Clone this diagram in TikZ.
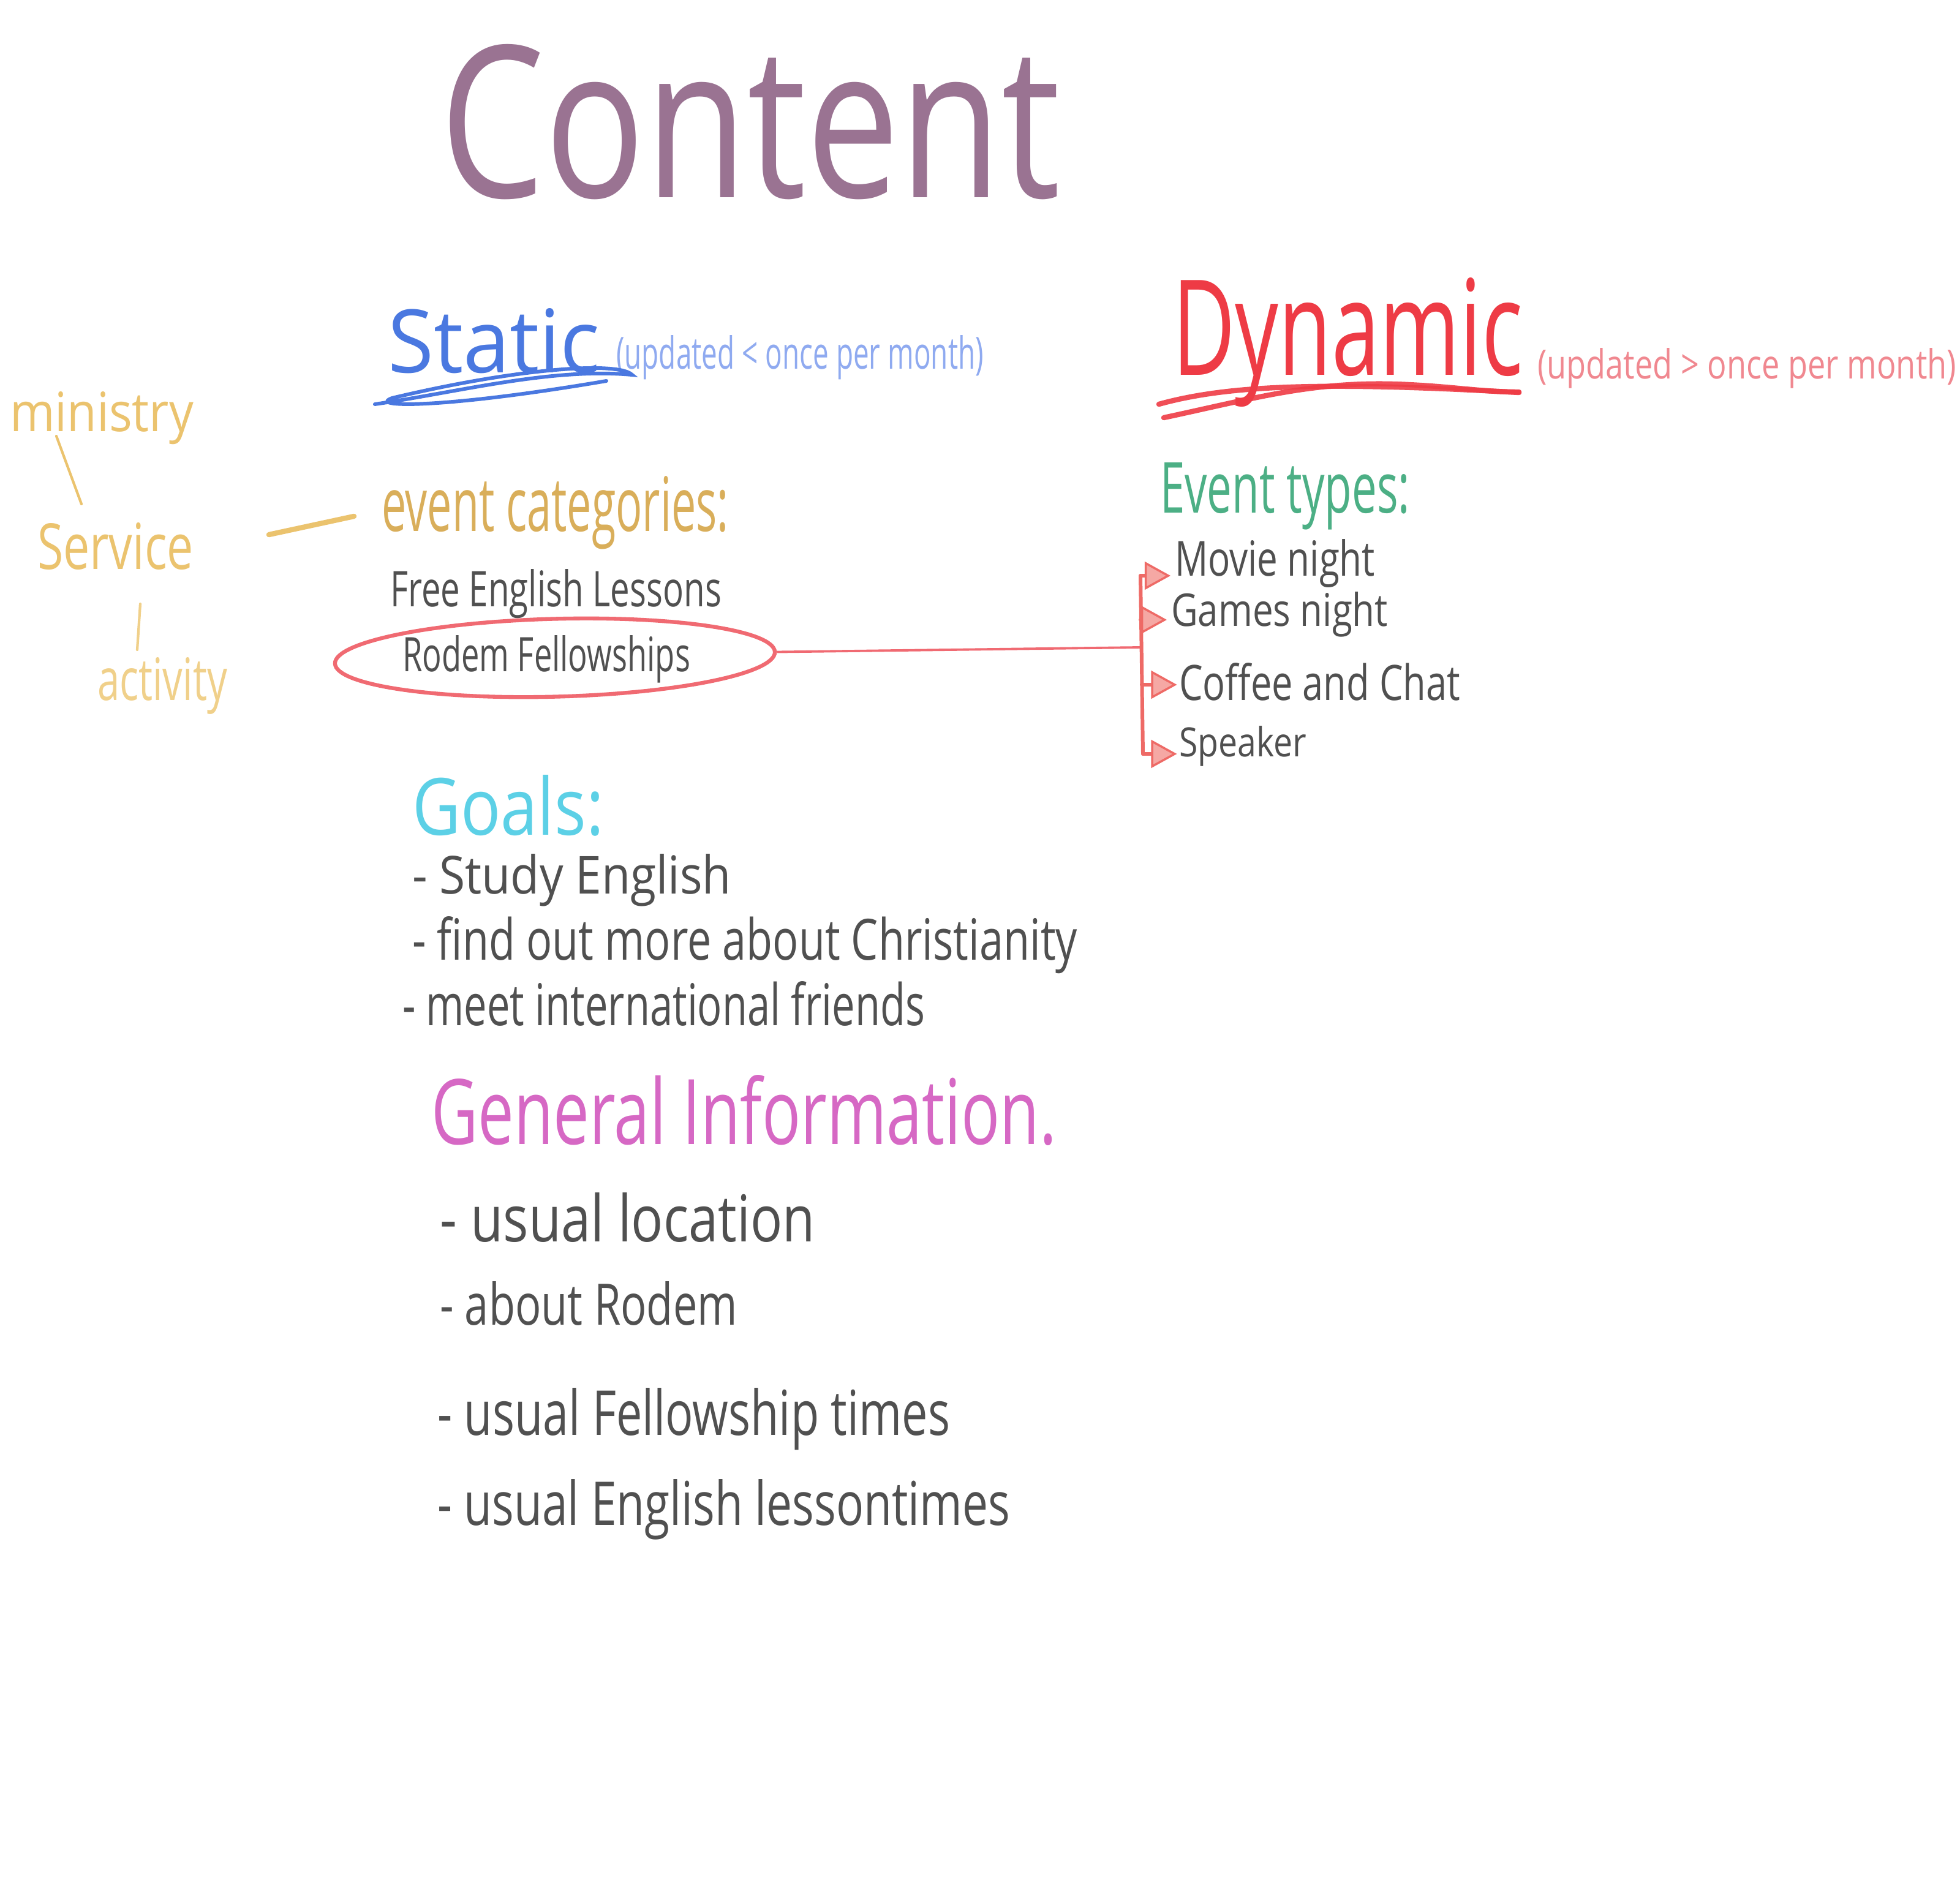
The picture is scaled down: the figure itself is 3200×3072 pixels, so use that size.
\documentclass[tikz,border=0pt]{standalone}
\usepackage{fontspec}
\setmainfont{Open Sans}
\usetikzlibrary{arrows.meta,shapes.geometric}
\newlength\upx \setlength\upx{0.01cm}
\newcommand\hw[3]{\resizebox{#1\upx}{#2\upx}{#3}}
\definecolor{cContent}{HTML}{9A7392}
\definecolor{cStatic}{HTML}{4A78E0}
\definecolor{cStaticL}{HTML}{8FAAF0}
\definecolor{cDyn}{HTML}{EE3B45}
\definecolor{cDynL}{HTML}{F08890}
\definecolor{cYel}{HTML}{EBC36E}
\definecolor{cYelL}{HTML}{F0D08A}
\definecolor{cEvCat}{HTML}{D9AE5A}
\definecolor{cInk}{HTML}{505050}
\definecolor{cCircle}{HTML}{F06A72}
\definecolor{cGreen}{HTML}{4CAF85}
\definecolor{cCyan}{HTML}{5CD0E6}
\definecolor{cMag}{HTML}{D668C4}
\definecolor{cArrow}{HTML}{EE6A66}
\definecolor{cArrowFill}{HTML}{F5A8A4}
\begin{document}
\begin{tikzpicture}[x=0.01cm,y=-0.01cm,
  hwtext/.style={inner sep=0pt, outer sep=0pt, anchor=base west},
  yelline/.style={draw=cYel, line width=1.2pt, line cap=round},
  brk/.style={draw=cArrow, line width=1.7pt, line cap=round, line join=round},
  arr/.style={-{Triangle[length=12pt,width=13pt,fill=cArrowFill,line width=1pt]}},
  ulblue/.style={draw=cStatic, line width=1.7pt, line cap=round},
  ulred/.style={draw=cDyn, line width=2.4pt, line cap=round, opacity=0.9}]
\useasboundingbox (0,0) rectangle (3200,3072);

% Title
\node[hwtext, text=cContent] (title) at (718,322) {\hw{1013}{250}{Content}};

% Static
\node[hwtext, text=cStatic] (static) at (633,608) {\hw{347}{105}{Static}};
\node[hwtext, text=cStaticL] (staticnote) at (1006,602) {\hw{600}{55}{(updated < once per month)}};
\draw[ulblue] (612,660) .. controls (750,640) and (900,600) .. (1032,612)
  .. controls (1010,590) and (850,600) .. (640,650)
  .. controls (600,665) and (720,668) .. (990,622);

% Dynamic
\node[hwtext, text=cDyn] (dynamic) at (1914,612) {\hw{572}{159}{Dynamic}};
\node[hwtext, text=cDynL] (dynnote) at (2510,618) {\hw{684}{50}{(updated > once per month)}};
\draw[ulred] (1892,660) .. controls (2000,630) and (2150,622) .. (2480,641);
\draw[ulred] (1900,682) .. controls (2050,650) and (2150,620) .. (2300,628) .. controls (2380,632) and (2420,640) .. (2480,640);

% left tree
\node[hwtext, text=cYel] (ministry) at (16,704) {\hw{300}{65}{ministry}};
\node[hwtext, text=cYel] (service) at (61,929) {\hw{255}{76}{Service}};
\node[hwtext, text=cYelL] (activity) at (159,1143) {\hw{212}{70}{activity}};
\coordinate (m1) at (92,712);
\coordinate (m2) at (133,823);
\coordinate (s1) at (229,986);
\coordinate (s2) at (224,1061);
\coordinate (e1) at (439,873);
\coordinate (e2) at (578,843);
\draw[yelline] (m1) -- (m2);
\draw[yelline, draw=cYelL] (s1) -- (s2);
\draw[yelline, line width=2.4pt] (e1) -- (e2);

% event categories
\node[hwtext, text=cEvCat] (evcat) at (623,867) {\hw{567}{90}{event categories:}};
\node[hwtext, text=cInk] (free) at (637,990) {\hw{541}{61}{Free English Lessons}};
\node[hwtext, text=cInk] (rodem) at (657,1096) {\hw{470}{59}{Rodem Fellowships}};
\node[ellipse, draw=cCircle, line width=1.8pt, minimum width=7.18cm, minimum height=1.27cm, rotate=1.5] (ring) at (906,1074) {};

% Event types
\node[hwtext, text=cGreen] (evtypes) at (1894,837) {\hw{408}{82}{Event types:}};
\node[hwtext, text=cInk] (movie) at (1918,940) {\hw{327}{60}{Movie night}};
\node[hwtext, text=cInk] (games) at (1912,1022) {\hw{354}{56}{Games night}};
\node[hwtext, text=cInk] (coffee) at (1925,1143) {\hw{459}{61}{Coffee and Chat}};
\node[hwtext, text=cInk] (speaker) at (1925,1235) {\hw{208}{50}{Speaker}};

\coordinate (bm) at (1862,1057);
\coordinate (b1) at (1862,940);
\coordinate (b2) at (1862,1012);
\coordinate (b3) at (1864,1118);
\coordinate (b4) at (1866,1231);
\draw[draw=cCircle, line width=1.1pt] (ring.east) -- (bm);
\draw[brk] (b1) -- (b4);
\draw[brk, arr] (b1) -- ([xshift=-2pt]b1 -| movie.west);
\draw[brk, arr] (b2) -- ([xshift=-2pt]b2 -| games.west);
\draw[brk, arr] (b3) -- ([xshift=-1pt]b3 -| coffee.west);
\draw[brk, arr] (b4) -- ([xshift=-1pt]b4 -| speaker.west);

% Goals
\node[hwtext, text=cCyan] (goals) at (673,1363) {\hw{313}{98}{Goals:}};
\node[hwtext, text=cInk] (g1) at (673,1459) {\hw{521}{65}{- Study English}};
\node[hwtext, text=cInk] (g2) at (673,1567) {\hw{1086}{71}{- find out more about Christianity}};
\node[hwtext, text=cInk] (g3) at (657,1674) {\hw{853}{72}{- meet international friends}};

% General information
\node[hwtext, text=cMag] (geninfo) at (704,1868) {\hw{1021}{113}{General Information.}};
\node[hwtext, text=cInk] (i1) at (718,2027) {\hw{613}{80}{- usual location}};
\node[hwtext, text=cInk] (i2) at (718,2163) {\hw{486}{71}{- about Rodem}};
\node[hwtext, text=cInk] (i3) at (714,2343) {\hw{837}{77}{- usual Fellowship times}};
\node[hwtext, text=cInk] (i4) at (714,2490) {\hw{935}{75}{- usual English lessontimes}};
\end{tikzpicture}
\end{document}
